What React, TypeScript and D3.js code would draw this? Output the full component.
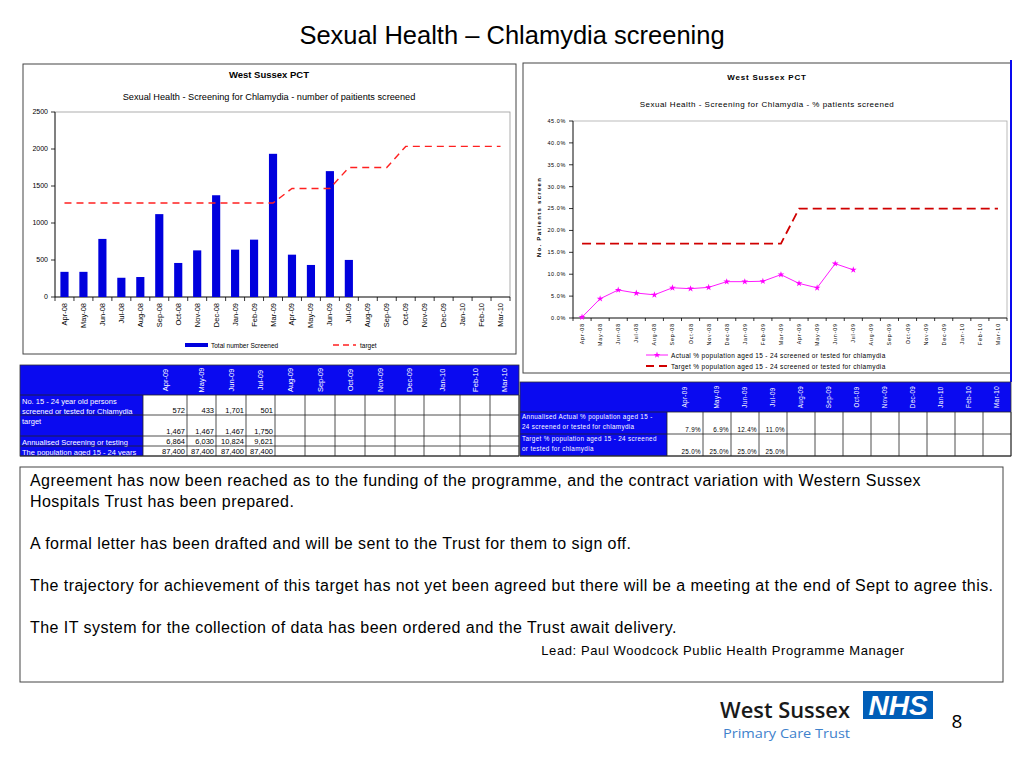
import React from 'react';
import * as d3 from 'd3';

const W = 1024;
const H = 768;
const ARIAL = '"Liberation Sans", Arial, sans-serif';
const SANS = '"Open Sans", "Noto Sans", sans-serif';
const BLUE = '#0a0af0';

// chart categories
const months = [
  'Apr-08', 'May-08', 'Jun-08', 'Jul-08', 'Aug-08', 'Sep-08', 'Oct-08', 'Nov-08', 'Dec-08', 'Jan-09', 'Feb-09', 'Mar-09',
  'Apr-09', 'May-09', 'Jun-09', 'Jul-09', 'Aug-09', 'Sep-09', 'Oct-09', 'Nov-09', 'Dec-09', 'Jan-10', 'Feb-10', 'Mar-10',
];
const screened = [340, 340, 785, 260, 270, 1120, 460, 630, 1375, 640, 775, 1935, 572, 433, 1701, 501];
const screenTarget = [
  1270, 1270, 1270, 1270, 1270, 1270, 1270, 1270, 1270, 1270, 1270, 1270,
  1467, 1467, 1467, 1750, 1750, 1750, 2035, 2035, 2035, 2035, 2035, 2035,
];
const pctActual = [0.2, 4.4, 6.4, 5.7, 5.3, 6.9, 6.7, 7.0, 8.3, 8.3, 8.4, 9.9, 7.9, 6.9, 12.4, 11.0];
const pctTarget = [
  17, 17, 17, 17, 17, 17, 17, 17, 17, 17, 17, 17,
  25, 25, 25, 25, 25, 25, 25, 25, 25, 25, 25, 25,
];
const countTicks = [0, 500, 1000, 1500, 2000, 2500];
const pctTicks = [0, 5, 10, 15, 20, 25, 30, 35, 40, 45];

// tables
const tableMonths = ['Apr-09', 'May-09', 'Jun-09', 'Jul-09', 'Aug-09', 'Sep-09', 'Oct-09', 'Nov-09', 'Dec-09', 'Jan-10', 'Feb-10', 'Mar-10'];
const rowScreened = ['572', '433', '1,701', '501'];
const rowTarget = ['1,467', '1,467', '1,467', '1,750'];
const rowAnnualised = ['6,864', '6,030', '10,824', '9,621'];
const rowPopulation = ['87,400', '87,400', '87,400', '87,400'];
const rowPctActual = ['7.9%', '6.9%', '12.4%', '11.0%'];
const rowPctTarget = ['25.0%', '25.0%', '25.0%', '25.0%'];

const paragraphs = [
  ['Agreement has now been reached as to the funding of the programme, and the contract variation with Western Sussex', 'Hospitals Trust has been prepared.'],
  ['A formal letter has been drafted and will be sent to the Trust for them to sign off.'],
  ['The trajectory for achievement of this target has not yet been agreed but there will be a meeting at the end of Sept to agree this.'],
  ['The IT system for the collection of data has been ordered and the Trust await delivery.'],
];

const LeftChart = () => {
  const x = d3.scaleBand<string>().domain(months).range([55, 510]);
  const y = d3.scaleLinear().domain([0, 2500]).range([297, 112]);
  const cx = (m: string) => (x(m) as number) + x.bandwidth() / 2;
  const barW = x.bandwidth() * 0.43;
  const targetLine = d3.line<number>()
    .x((_, i) => cx(months[i]))
    .y(d => y(d));
  return (
    <g fontFamily={ARIAL}>
      <rect x={23} y={64} width={493} height={290} fill="#fff" stroke="#444" strokeWidth={1} />
      <text x={269} y={78} textAnchor="middle" fontSize={9.5} fontWeight="bold">West Sussex PCT</text>
      <text x={269} y={100} textAnchor="middle" fontSize={9.2}>Sexual Health - Screening for Chlamydia - number of paitients screened</text>
      <rect x={55} y={112} width={455} height={185} fill="none" stroke="#999" strokeWidth={0.8} />
      <line x1={55} x2={55} y1={112} y2={297} stroke="#000" strokeWidth={0.8} />
      <line x1={55} x2={510} y1={297} y2={297} stroke="#000" strokeWidth={0.8} />
      {countTicks.map(t => (
        <g key={t}>
          <line x1={51} x2={55} y1={y(t)} y2={y(t)} stroke="#000" strokeWidth={0.8} />
          <text x={48} y={y(t)} dy="0.35em" textAnchor="end" fontSize={7}>{t}</text>
        </g>
      ))}
      {months.map(m => (
        <line key={'t' + m} x1={x(m) as number} x2={x(m) as number} y1={297} y2={301} stroke="#000" strokeWidth={0.8} />
      ))}
      <line x1={510} x2={510} y1={297} y2={301} stroke="#000" strokeWidth={0.8} />
      {screened.map((v, i) => (
        <rect key={i} x={cx(months[i]) - barW / 2} y={y(v)} width={barW} height={y(0) - y(v)} fill="#0000dd" />
      ))}
      <path d={targetLine(screenTarget) as string} fill="none" stroke="#ff2020" strokeWidth={1.4} strokeDasharray="7,5" />
      {months.map(m => (
        <text key={m} transform={`translate(${cx(m) + 2.5},303) rotate(-90)`} textAnchor="end" fontSize={7.5}>{m}</text>
      ))}
      <rect x={185} y={343} width={23} height={4} fill="#0000dd" />
      <text x={211} y={347.5} fontSize={6.5}>Total number Screened</text>
      <line x1={333} x2={356} y1={345} y2={345} stroke="#ff2020" strokeWidth={1.4} strokeDasharray="6,4" />
      <text x={360} y={347.5} fontSize={6.5}>target</text>
    </g>
  );
};

const RightChart = () => {
  const x = d3.scaleBand<string>().domain(months).range([573, 1007]);
  const y = d3.scaleLinear().domain([0, 45]).range([318, 121]);
  const cx = (m: string) => (x(m) as number) + x.bandwidth() / 2;
  const line = d3.line<number>()
    .x((_, i) => cx(months[i]))
    .y(d => y(d));
  const star = d3.symbol().type(d3.symbolStar).size(14)() as string;
  return (
    <g fontFamily={ARIAL}>
      <rect x={523} y={63} width={488} height={310} fill="#fff" stroke="#444" strokeWidth={1} />
      <line x1={1011} x2={1011} y1={60} y2={382} stroke={BLUE} strokeWidth={2} />
      <text x={767} y={80} textAnchor="middle" fontSize={8} fontWeight="bold" letterSpacing={0.8}>West Sussex PCT</text>
      <text x={767} y={107} textAnchor="middle" fontSize={8} letterSpacing={0.5}>Sexual Health - Screening for Chlamydia - % patients screened</text>
      <rect x={573} y={121} width={434} height={197} fill="none" stroke="#aaa" strokeWidth={0.8} />
      <line x1={573} x2={573} y1={121} y2={318} stroke="#000" strokeWidth={0.8} />
      <line x1={573} x2={1007} y1={318} y2={318} stroke="#000" strokeWidth={0.8} />
      {pctTicks.map(t => (
        <g key={t}>
          <line x1={569} x2={573} y1={y(t)} y2={y(t)} stroke="#000" strokeWidth={0.8} />
          <text x={566} y={y(t)} dy="0.35em" textAnchor="end" fontSize={5.5} letterSpacing={0.6}>{t.toFixed(1) + '%'}</text>
        </g>
      ))}
      {months.map(m => (
        <line key={'t' + m} x1={x(m) as number} x2={x(m) as number} y1={318} y2={321} stroke="#000" strokeWidth={0.8} />
      ))}
      <line x1={1007} x2={1007} y1={318} y2={321} stroke="#000" strokeWidth={0.8} />
      <text transform="translate(541,217) rotate(-90)" textAnchor="middle" fontSize={6} fontWeight="bold" letterSpacing={1.3}>No. Patients screen</text>
      <path d={line(pctTarget) as string} fill="none" stroke="#d00000" strokeWidth={1.8} strokeDasharray="9,5" />
      <path d={line(pctActual) as string} fill="none" stroke="#ff00ff" strokeWidth={0.9} />
      {pctActual.map((v, i) => (
        <path key={i} d={star} transform={`translate(${cx(months[i])},${y(v)})`} fill="#ff00ff" />
      ))}
      {months.map(m => (
        <text key={m} transform={`translate(${cx(m) + 2},323) rotate(-90)`} textAnchor="end" fontSize={5.3} letterSpacing={0.9}>{m}</text>
      ))}
      <line x1={646} x2={668} y1={355} y2={355} stroke="#ff00ff" strokeWidth={0.9} />
      <path d={star} transform="translate(657,355)" fill="#ff00ff" />
      <text x={671} y={357.5} fontSize={6.5} letterSpacing={0.35}>Actual % population aged 15 - 24 screened or tested for chlamydia</text>
      <line x1={646} x2={668} y1={366} y2={366} stroke="#d00000" strokeWidth={1.8} strokeDasharray="8,5" />
      <text x={671} y={368.5} fontSize={6.5} letterSpacing={0.35}>Target % population aged 15 - 24 screened or tested for chlamydia</text>
    </g>
  );
};

type Row = { label: string[]; values: string[]; top: number; bottom: number };

const DataTable = ({ cols, rows, headerTop, headerBottom, fontSize, spacing }: {
  cols: number[]; rows: Row[]; headerTop: number; headerBottom: number; fontSize: number; spacing: number;
}) => {
  const left = cols[0];
  const right = cols[cols.length - 1];
  const labelEnd = cols[1];
  const bottom = rows[rows.length - 1].bottom;
  return (
    <g fontFamily={ARIAL} fontSize={fontSize} letterSpacing={spacing}>
      <rect x={left} y={headerTop} width={right - left} height={headerBottom - headerTop} fill={BLUE} />
      <rect x={left} y={headerBottom} width={labelEnd - left} height={bottom - headerBottom} fill={BLUE} />
      <rect x={labelEnd} y={headerBottom} width={right - labelEnd} height={bottom - headerBottom} fill="#fff" />
      {tableMonths.map((m, i) => (
        <text key={m} transform={`translate(${(cols[i + 1] + cols[i + 2]) / 2},${(headerTop + headerBottom) / 2}) rotate(-90)`}
          textAnchor="middle" dy="0.35em" fill="#fff">{m}</text>
      ))}
      {rows.map((r, ri) => (
        <g key={ri}>
          <line x1={left} x2={right} y1={r.top} y2={r.top} stroke="#222" strokeWidth={0.8} />
          {r.label.map((l, li) => (
            <text key={li} x={left + 2} y={r.top + fontSize + 1 + li * (fontSize + 3)} fill="#fff">{l}</text>
          ))}
          {r.values.map((v, vi) => (
            <text key={vi} x={cols[vi + 2] - 2} y={r.bottom - 2} textAnchor="end" fill="#000">{v}</text>
          ))}
        </g>
      ))}
      {cols.slice(1).map((c, i) => (
        <line key={i} x1={c} x2={c} y1={headerBottom} y2={bottom} stroke="#222" strokeWidth={0.8} />
      ))}
      <line x1={left} x2={right} y1={bottom} y2={bottom} stroke="#222" strokeWidth={1} />
      <rect x={left} y={headerTop} width={right - left} height={bottom - headerTop} fill="none" stroke="#333" strokeWidth={0.8} />
    </g>
  );
};

const Logo = () => (
  <g>
    <text x={720} y={718} fontFamily={SANS} fontSize={21} fontWeight={600} fill="#1a1a1a" textLength={130} lengthAdjust="spacingAndGlyphs">West Sussex</text>
    <text x={723} y={738} fontFamily={SANS} fontSize={13.5} fill="#3f82cc" textLength={127} lengthAdjust="spacingAndGlyphs">Primary Care Trust</text>
    <rect x={863} y={691} width={70} height={28} fill="#005eb8" />
    <text x={898} y={715} textAnchor="middle" fontFamily={ARIAL} fontSize={28} fontWeight="bold" fontStyle="italic" fill="#fff">NHS</text>
    <text x={957} y={728} textAnchor="middle" fontFamily={SANS} fontSize={19} fill="#000">8</text>
  </g>
);

const App = () => {
  const leftRows: Row[] = [
    { label: ['No. 15 - 24 year old persons', 'screened or tested for Chlamydia'], values: rowScreened, top: 395, bottom: 415 },
    { label: ['target'], values: rowTarget, top: 415, bottom: 436 },
    { label: ['Annualised Screening or testing'], values: rowAnnualised, top: 436, bottom: 446 },
    { label: ['The population aged 15 - 24 years'], values: rowPopulation, top: 446, bottom: 456 },
  ];
  const rightRows: Row[] = [
    { label: ['Annualised Actual % population aged 15 -', '24 screened or tested for chlamydia'], values: rowPctActual, top: 412, bottom: 434 },
    { label: ['Target % population aged 15 - 24 screened', 'or tested for chlamydia'], values: rowPctTarget, top: 434, bottom: 456 },
  ];
  let lineY = 486;
  const bodyLines: { t: string; y: number }[] = [];
  paragraphs.forEach(p => {
    p.forEach(t => { bodyLines.push({ t, y: lineY }); lineY += 21; });
    lineY += 21;
  });
  return (
    <svg width={W} height={H} style={{ position: 'absolute', left: 0, top: 0, background: '#fff' }}>
      <rect width={W} height={H} fill="#fff" />
      <text x={512} y={44} textAnchor="middle" fontFamily={ARIAL} fontSize={25.5}>Sexual Health – Chlamydia screening</text>
      <LeftChart />
      <RightChart />
      <DataTable cols={[20, 143, 187, 216, 246, 275, 305, 335, 365, 395, 424, 460, 490, 519]} rows={leftRows}
        headerTop={365} headerBottom={395} fontSize={7.5} spacing={0} />
      <DataTable cols={[520, 667, 703, 731, 759, 787, 815, 843, 871, 899, 927, 955, 983, 1011]} rows={rightRows}
        headerTop={382} headerBottom={412} fontSize={6.3} spacing={0.35} />
      <rect x={20} y={467} width={983} height={215} fill="#fff" stroke="#444" strokeWidth={1} />
      {bodyLines.map((l, i) => (
        <text key={i} x={30} y={l.y} fontFamily={ARIAL} fontSize={16} letterSpacing={0.45}>{l.t}</text>
      ))}
      <text x={723} y={655} textAnchor="middle" fontFamily={ARIAL} fontSize={13} letterSpacing={0.6}>Lead: Paul Woodcock Public Health Programme Manager</text>
      <Logo />
    </svg>
  );
};

export default App;
